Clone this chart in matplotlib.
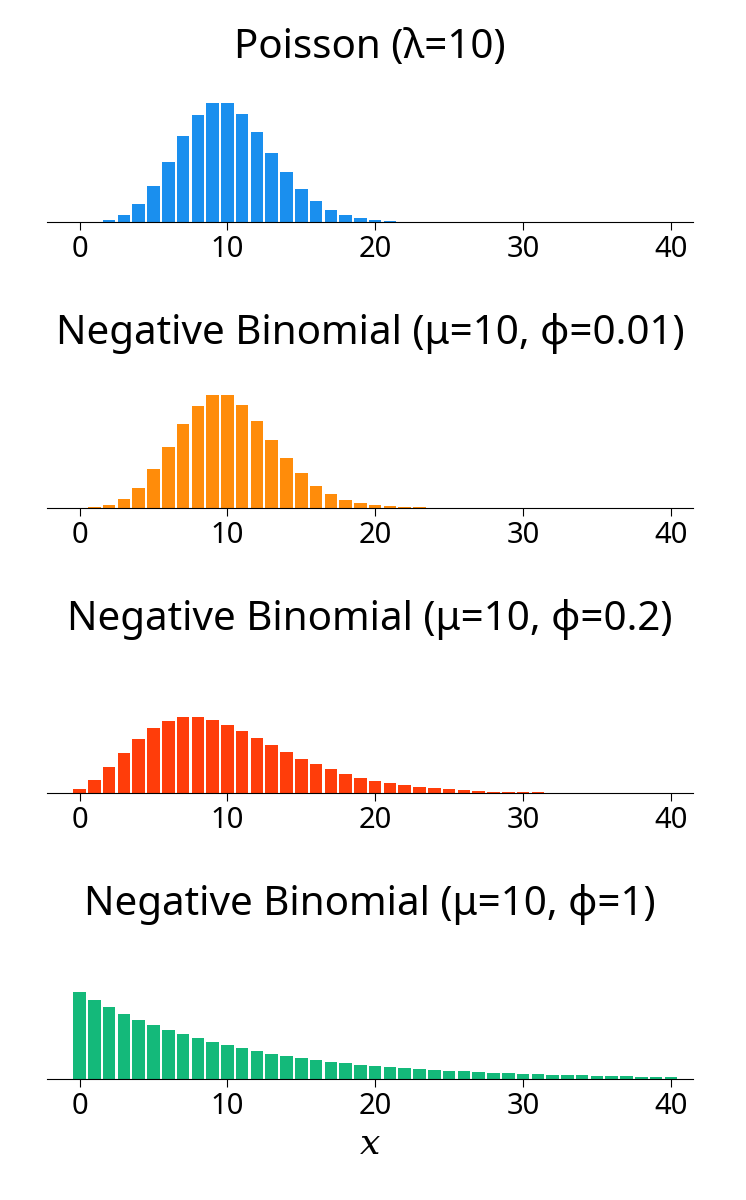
import matplotlib
matplotlib.use("AGG")
import matplotlib.pyplot as plt
import numpy as np

x = np.arange(0, 41)

poisson = [0.00005, 0.0005, 0.0023, 0.0076, 0.0189, 0.0378, 0.0631, 0.0901, 0.1126, 0.1251,
           0.1251, 0.1137, 0.0948, 0.0729, 0.0521, 0.0347, 0.0217, 0.0128, 0.0071, 0.0037,
           0.0019, 0.0009, 0.0004, 0.0002] + [0.0] * 17
nb_001 = [0.0001, 0.0007, 0.003, 0.009, 0.021, 0.040, 0.064, 0.088, 0.107, 0.118,
          0.118, 0.108, 0.091, 0.071, 0.052, 0.036, 0.023, 0.014, 0.008, 0.0045,
          0.0024, 0.0012, 0.0006, 0.0003] + [0.0] * 17
nb_02 = [0.0041, 0.0137, 0.0274, 0.0427, 0.0569, 0.0683, 0.0759, 0.0795, 0.0795, 0.0765,
         0.0714, 0.0649, 0.0577, 0.0503, 0.0431, 0.0364, 0.0303, 0.0250, 0.0204, 0.0164,
         0.0132, 0.0104, 0.0082, 0.0064, 0.0050, 0.0039, 0.0030, 0.0023, 0.0017, 0.0013,
         0.0010, 0.0008, 0.0006, 0.0004, 0.0003, 0.0002] + [0.0] * 5
nb_1 = [0.0909, 0.0826, 0.0751, 0.0683, 0.0621, 0.0564, 0.0513, 0.0467, 0.0424, 0.0386,
        0.0351, 0.0319, 0.0290, 0.0263, 0.0239, 0.0218, 0.0198, 0.0180, 0.0164, 0.0149,
        0.0135, 0.0123, 0.0112, 0.0102, 0.0093, 0.0084, 0.0077, 0.0070, 0.0063, 0.0058,
        0.0052, 0.0048, 0.0043, 0.0039, 0.0036, 0.0033, 0.0030, 0.0027, 0.0024, 0.0022, 0.0020]

panels = [
    ("Poisson (λ=10)", poisson, "#1a8fee"),
    ("Negative Binomial (μ=10, ϕ=0.01)", nb_001, "#ff8c0a"),
    ("Negative Binomial (μ=10, ϕ=0.2)", nb_02, "#ff3d0a"),
    ("Negative Binomial (μ=10, ϕ=1)", nb_1, "#14b97a"),
]

plt.rcParams["font.family"] = ["Noto Sans", "DejaVu Sans"]
plt.rcParams["mathtext.fontset"] = "dejavuserif"
fig = plt.figure(figsize=(7.46, 12), dpi=100)
bottoms = [0.815, 0.577, 0.339, 0.101]

for (title, vals, color), b in zip(panels, bottoms):
    ax = fig.add_axes([0.063, b, 0.866, 0.104])
    ax.bar(x, vals, width=0.85, color=color)
    ax.set_ylim(0, 0.131)
    ax.set_xlim(-2.2, 41.5)
    ax.set_title(title, fontsize=29, pad=28)
    for s in ["left", "right", "top"]:
        ax.spines[s].set_visible(False)
    ax.set_yticks([])
    ax.set_xticks([0, 10, 20, 30, 40])
    ax.tick_params(axis="x", labelsize=21, length=6)

ax.set_xlabel("$x$", fontsize=26)
fig.savefig("out.png")
